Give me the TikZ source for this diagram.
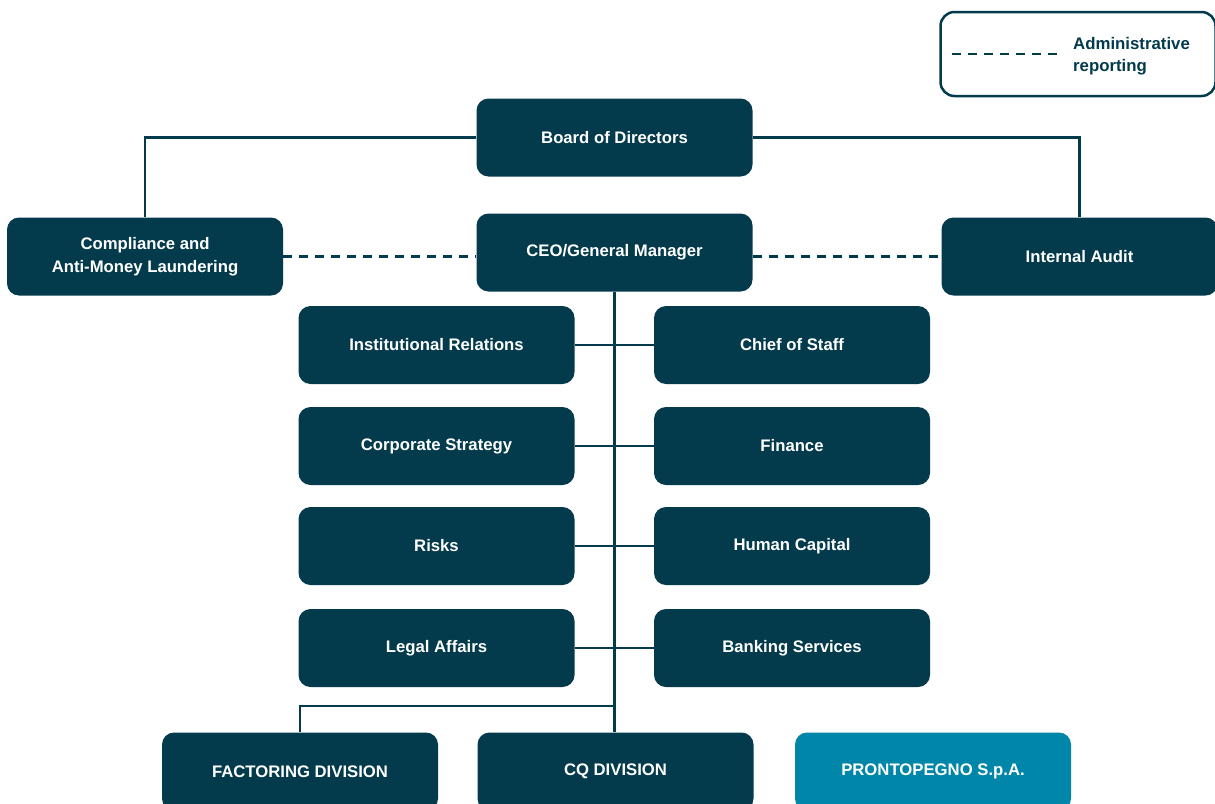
\documentclass[tikz,border=0pt]{standalone}
\usepackage{fontspec}
\setmainfont{Liberation Sans}
\usetikzlibrary{calc}
\definecolor{petrol}{RGB}{3,59,76}
\definecolor{pegno}{RGB}{0,134,168}
\tikzset{
  unit/.style={rectangle, rounded corners=12pt, fill=petrol, text=white,
    minimum width=276pt, minimum height=78pt, align=center,
    font=\fontsize{16.7}{23}\selectfont\bfseries},
  subsid/.style={unit, fill=pegno},
  link/.style={draw=petrol, line width=2.5pt},
  admin/.style={link, dash pattern=on 9pt off 7pt},
  legendbox/.style={rectangle, draw=petrol, line width=2.5pt, rounded corners=14pt,
    minimum width=275pt, minimum height=84pt},
}
\begin{document}
\begin{tikzpicture}[x=1pt,y=-1pt]
		%%%%% START %%%%%
		\useasboundingbox (0,0) rectangle (1215,803);
		
		% legend
		\node[legendbox] (leg) at (1078,54) {};
		\coordinate (la) at (952,54);
		\coordinate (lb) at (1063,54);
		\draw[admin] (la) -- (lb);
		\node[anchor=west, align=left, text=petrol, inner sep=0pt,
		  font=\fontsize{16.8}{22}\selectfont\bfseries] (legtext) at (1073,56) {Administrative\\reporting};
		
		% top level
		\node[unit] (board) at (614.5,137.5) {Board of Directors};
		\node[unit] (ceo) at (614.5,252.5) {CEO/General Manager};
		\node[unit] (comp) at (145,256.5) {Compliance and\\Anti-Money Laundering};
		\node[unit] (audit) at (1079.5,256.5) {Internal Audit};
		
		% staff functions
		\node[unit] (inst) at (436.5,345) {Institutional Relations};
		\node[unit] (chief) at (792,345) {Chief of Staff};
		\node[unit] (strat) at (436.5,446) {Corporate Strategy};
		\node[unit] (fin) at (792,446) {Finance};
		\node[unit] (risk) at (436.5,546) {Risks};
		\node[unit] (hc) at (792,546) {Human Capital};
		\node[unit] (legal) at (436.5,648) {Legal Affairs};
		\node[unit] (bank) at (792,648) {Banking Services};
		
		% divisions
		\node[unit] (fact) at (300,771.5) {FACTORING DIVISION};
		\node[unit] (cq) at (615.5,771.5) {CQ DIVISION};
		\node[subsid] (pegno) at (933,771.5) {PRONTOPEGNO S.p.A.};
		
		% connectors
		\draw[link] (board.west) -| (comp.north);
		\draw[link] (board.east) -| (audit.north);
		\draw[admin] (comp.east) -- (comp.east -| ceo.west);
		\draw[admin] (audit.west -| ceo.east) -- (audit.west);
		\draw[link] (ceo.south) -- (ceo.south |- cq.north);
		\draw[link] (inst.east) -- (chief.west);
		\draw[link] (strat.east) -- (fin.west);
		\draw[link] (risk.east) -- (hc.west);
		\draw[link] (legal.east) -- (bank.west);
		\coordinate (fork) at (614.5,706);
		\draw[link] (fork) -| (fact.north);
		
		%%%%% END %%%%%
\end{tikzpicture}
\end{document}
